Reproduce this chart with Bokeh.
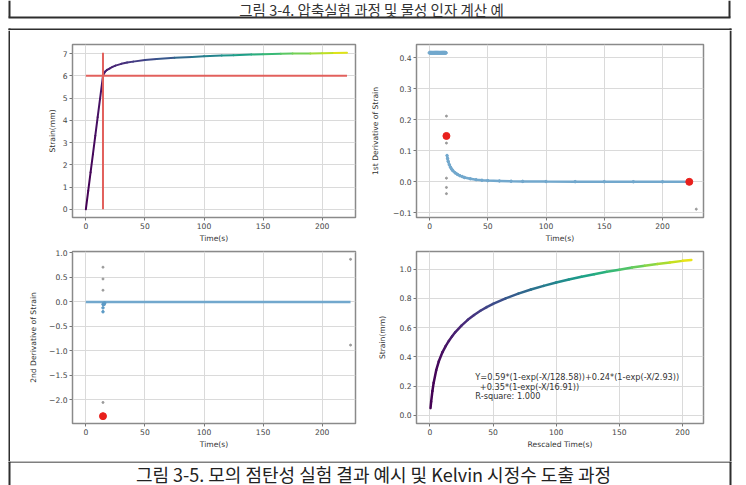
from bokeh.plotting import figure
from bokeh.layouts import row, column
from bokeh.models import Range1d, ColumnDataSource
from bokeh.transform import linear_cmap
from bokeh.palettes import Viridis256
from bokeh.embed import file_html
from bokeh.resources import INLINE
from bokeh.core.properties import value

# ---------------- captions ----------------
HEADER_CAPTION = "그림 3-4. 압축실험 과정 및 물성 인자 계산 예"
FOOTER_CAPTION = "그림 3-5. 모의 점탄성 실험 결과 예시 및 Kelvin 시정수 도출 과정"

# ---------------- panel (a): strain vs time ----------------
strain_time = [0, 2, 4, 6, 8, 10, 12, 14.5, 15.5, 16.5, 18, 20, 22.5, 25, 30, 35, 40, 50,
               60, 75, 90, 100, 115, 125, 140, 150, 165, 175, 190, 200, 210, 221]
strain_mm = [0.0, 0.83, 1.66, 2.48, 3.31, 4.14, 4.97, 6.0, 6.12, 6.2, 6.27, 6.33, 6.4, 6.46,
             6.54, 6.6, 6.64, 6.71, 6.76, 6.81, 6.85, 6.88, 6.91, 6.93, 6.96, 6.97, 6.99,
             7.0, 7.01, 7.02, 7.03, 7.04]
knee_time = 14.5
knee_strain = 6.0

# ---------------- panel (b): 1st derivative ----------------
ramp_time = [0, 1, 2, 3, 4, 5, 6, 7, 8, 9, 10, 11, 12, 13, 14]
ramp_rate = [0.416, 0.416, 0.416, 0.416, 0.416, 0.416, 0.416, 0.416, 0.416, 0.416,
             0.416, 0.416, 0.416, 0.416, 0.416]
decay_time = [15, 15.5, 16, 17, 18, 19, 20, 22, 24, 26, 28, 30, 35, 40, 45, 50, 60, 70,
              80, 100, 125, 150, 175, 200, 223]
decay_rate = [0.085, 0.075, 0.066, 0.055, 0.047, 0.041, 0.036, 0.029, 0.024, 0.020, 0.017,
              0.014, 0.010, 0.007, 0.005, 0.004, 0.003, 0.002, 0.0015, 0.001, 0.0007,
              0.0005, 0.0003, 0.0002, 0.0001]
b_stray_time = [14.5, 14.5, 14.5, 14.5, 14.5, 229]
b_stray_rate = [0.212, 0.125, 0.012, -0.018, -0.038, -0.088]
b_pick_time = [14.5, 223]
b_pick_rate = [0.148, 0.0]

# ---------------- panel (c): 2nd derivative ----------------
acc_time = [0, 25, 50, 75, 100, 125, 150, 175, 200, 224]
acc_value = [0, 0, 0, 0, 0, 0, 0, 0, 0, 0]
c_blue_time = [14.5, 14.5, 14.5, 15, 15.5, 16]
c_blue_value = [-0.05, -0.12, -0.2, -0.03, -0.05, -0.02]
c_stray_time = [14.5, 14.5, 14.5, 14.5, 224, 224]
c_stray_value = [0.71, 0.47, 0.24, -2.05, 0.87, -0.88]
c_pick_time = [14.5]
c_pick_value = [-2.33]

# ---------------- panel (d): rescaled fit ----------------
rescaled_time = [0.5, 1, 2, 3, 5, 7, 10, 12.5, 15, 17.5, 20, 25, 30, 35, 40, 45, 50, 60, 70,
                 80, 90, 100, 110, 120, 130, 140, 150, 160, 170, 180, 190, 200, 207]
rescaled_strain = [0.050, 0.094, 0.167, 0.224, 0.309, 0.368, 0.433, 0.474, 0.509, 0.540,
                   0.568, 0.614, 0.653, 0.686, 0.715, 0.740, 0.762, 0.800, 0.832, 0.860,
                   0.885, 0.908, 0.929, 0.948, 0.965, 0.981, 0.996, 1.010, 1.023, 1.034,
                   1.045, 1.056, 1.062]
fit_text = ["Y=0.59*(1-exp(-X/128.58))+0.24*(1-exp(-X/2.93))",
            "+0.35*(1-exp(-X/16.91))",
            "R-square: 1.000"]

# ---------------- ticks ----------------
time_ticks = [0, 50, 100, 150, 200]
a_yticks = [0, 1, 2, 3, 4, 5, 6, 7]
b_yticks = [-0.1, 0.0, 0.1, 0.2, 0.3, 0.4]
b_ylabels = ["\u22120.1", "0.0", "0.1", "0.2", "0.3", "0.4"]
c_yticks = [-2.0, -1.5, -1.0, -0.5, 0.0, 0.5, 1.0]
c_ylabels = ["\u22122.0", "\u22121.5", "\u22121.0", "\u22120.5", "0.0", "0.5", "1.0"]
d_yticks = [0.0, 0.2, 0.4, 0.6, 0.8, 1.0]
d_ylabels = ["0.0", "0.2", "0.4", "0.6", "0.8", "1.0"]

# ---------------- styling ----------------
TICK_FONT = "7.6px"
LABEL_FONT = "7.6px"
MPL_FONT = "DejaVu Sans"
BLUE = "#72a8cd"
RED_DOT = "#e8201c"
RED_LINE = "#e2605c"
GRAY_DOT = "#9a9a9a"
BORDER = "#2e2e2e"
CAPTION_FONT = "Noto Sans CJK KR"

PAGE_W = 746
LEFT_W, RIGHT_W = 358, 361
TOP_H, BOT_H = 217, 214
HEAD_H, FOOT_H = 30, 24


def panel(w, h, xr, yr, mbl, mbr, mbt, mbb, xlabel, ylabel, yticks, ylabels, standoff):
    p = figure(width=w, height=h, x_range=Range1d(*xr), y_range=Range1d(*yr),
               output_backend="svg", toolbar_location=None, title=None,
               min_border_left=mbl, min_border_right=mbr, min_border_top=mbt,
               min_border_bottom=mbb, background_fill_color="white",
               border_fill_color="white", outline_line_color="#8a8a8a",
               outline_line_width=1.5)
    p.xaxis.ticker = time_ticks
    p.yaxis.ticker = yticks
    if ylabels is not None:
        p.yaxis.major_label_overrides = {t: s for t, s in zip(yticks, ylabels)}
    for ax in (p.xaxis[0], p.yaxis[0]):
        ax.axis_line_color = None
        ax.major_tick_out = 3
        ax.major_tick_in = 0
        ax.minor_tick_line_color = None
        ax.major_tick_line_color = "#777777"
        ax.major_label_standoff = 2
        ax.major_label_text_font = MPL_FONT
        ax.major_label_text_font_size = TICK_FONT
        ax.major_label_text_color = "#444444"
        ax.axis_label_text_font = MPL_FONT
        ax.axis_label_text_font_size = LABEL_FONT
        ax.axis_label_text_font_style = "normal"
        ax.axis_label_text_color = "#333333"
    p.xaxis.axis_label = xlabel
    p.yaxis.axis_label = ylabel
    p.xaxis.axis_label_standoff = 2
    p.yaxis.axis_label_standoff = standoff
    p.grid.grid_line_color = "#dadada"
    p.grid.grid_line_width = 1
    return p


def gradient(p, xs, ys, width):
    src = ColumnDataSource(dict(x0=xs[:-1], y0=ys[:-1], x1=xs[1:], y1=ys[1:]))
    cmap = linear_cmap("x0", Viridis256, low=min(xs), high=max(xs))
    p.segment("x0", "y0", "x1", "y1", source=src, line_color=cmap,
              line_width=width, line_cap="round")


# (a)
pa = panel(LEFT_W, TOP_H, (-11.3, 228.2), (-0.37, 7.41), 62, 13, 14, 30,
           "Time(s)", "Strain(mm)", a_yticks, None, 3)
gradient(pa, strain_time, strain_mm, 2)
pa.segment(x0=[min(strain_time)], y0=[knee_strain], x1=[max(strain_time)], y1=[knee_strain],
           line_color=RED_LINE, line_width=2)
pa.segment(x0=[knee_time], y0=[min(strain_mm)], x1=[knee_time], y1=[max(strain_mm)],
           line_color=RED_LINE, line_width=2)

# (b)
pb = panel(RIGHT_W, TOP_H, (-11.2, 235.2), (-0.115, 0.443), 48, 26, 14, 30,
           "Time(s)", "1st Derivative of Strain", b_yticks, b_ylabels, 10)
pb.line(ramp_time, ramp_rate, line_color=BLUE, line_width=4)
pb.scatter(ramp_time, ramp_rate, size=3, color=BLUE)
pb.line(decay_time, decay_rate, line_color=BLUE, line_width=2.5)
pb.scatter(decay_time, decay_rate, size=2.5, color=BLUE)
pb.scatter(b_stray_time, b_stray_rate, size=2, color=GRAY_DOT)
pb.scatter(b_pick_time, b_pick_rate, size=7, color=RED_DOT)

# (c)
pc = panel(LEFT_W, BOT_H, (-11.3, 228.2), (-2.48, 1.03), 62, 13, 4, 38,
           "Time(s)", "2nd Derivative of Strain", c_yticks, c_ylabels, 8)
pc.line(acc_time, acc_value, line_color=BLUE, line_width=2.5)
pc.scatter(c_blue_time, c_blue_value, size=2.5, color="#5d9bc6")
pc.scatter(c_stray_time, c_stray_value, size=2, color=GRAY_DOT)
pc.scatter(c_pick_time, c_pick_value, size=7, color=RED_DOT)

# (d)
pd_ = panel(RIGHT_W, BOT_H, (-10.6, 216.6), (-0.055, 1.12), 48, 26, 4, 38,
            "Rescaled Time(s)", "Strain(mm)", d_yticks, d_ylabels, 9)
gradient(pd_, rescaled_time, rescaled_strain, 2.5)
fit_src = ColumnDataSource(dict(
    x=[36, 39.5, 36],
    y=[0.261, 0.197, 0.136],
    t=fit_text))
pd_.text("x", "y", text="t", source=fit_src, text_font=value(MPL_FONT),
         text_font_size="8.2px", text_color="#333333", text_baseline="middle",
         text_align="left")


# ---------------- document frame pieces (page pixel coordinates) ----------------
def deco(x_left, w, y_top, h):
    f = figure(width=w, height=h, x_range=Range1d(x_left, x_left + w),
               y_range=Range1d(y_top + h, y_top),
               output_backend="svg", toolbar_location=None, title=None, min_border=0,
               x_axis_location=None, y_axis_location=None, outline_line_color=None,
               background_fill_color="white", border_fill_color="white")
    f.grid.visible = False
    return f


MID_TOP = HEAD_H
MID_H = TOP_H + BOT_H
FOOT_TOP = MID_TOP + MID_H

header = deco(0, PAGE_W, 0, HEAD_H)
header.segment(x0=[8, 9, 729, 8, 9, 730], y0=[17, 0, 0, 29, 28, 28],
               x1=[730, 9, 729, 731, 9, 730], y1=[17, 17, 17, 29, 30, 30],
               line_color=BORDER, line_width=2)
header.text(x=[371], y=[9], text=[HEADER_CAPTION], text_font=value(CAPTION_FONT),
            text_font_size="14.5px", text_color="#333333", text_align="center",
            text_baseline="middle")

side_l = deco(0, 10, MID_TOP, MID_H)
side_l.segment(x0=[9], y0=[MID_TOP], x1=[9], y1=[FOOT_TOP], line_color=BORDER, line_width=2)
side_r = deco(10 + LEFT_W + RIGHT_W, PAGE_W - 10 - LEFT_W - RIGHT_W, MID_TOP, MID_H)
side_r.segment(x0=[730], y0=[MID_TOP], x1=[730], y1=[FOOT_TOP], line_color=BORDER, line_width=2)

footer = deco(0, PAGE_W, FOOT_TOP, FOOT_H)
footer.segment(x0=[8], y0=[461.5], x1=[731], y1=[461.5], line_color="#555555", line_width=1.5)
footer.segment(x0=[9, 730], y0=[FOOT_TOP, FOOT_TOP], x1=[9, 730], y1=[FOOT_TOP + FOOT_H] * 2,
               line_color=BORDER, line_width=2)
footer.text(x=[373], y=[473], text=[FOOTER_CAPTION], text_font=value(CAPTION_FONT),
            text_font_size="18px", text_color="#222222", text_align="center",
            text_baseline="middle")

middle = row(side_l, column(pa, pc), column(pb, pd_), side_r)
layout = column(header, middle, footer)

open("out.html", "w").write(file_html(layout, INLINE))
